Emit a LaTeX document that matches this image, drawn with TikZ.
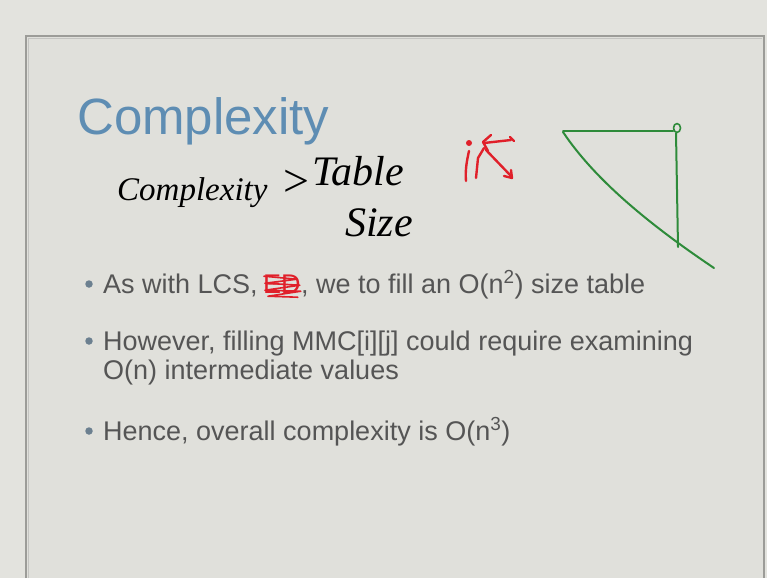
\documentclass[tikz,border=0pt]{standalone}
\usepackage{fontspec}
\setmainfont{Liberation Sans}
\newfontfamily\handfont{Liberation Serif}
\begin{document}
\begin{tikzpicture}[x=1pt,y=-1pt,
  body/.style={anchor=base west,inner sep=0pt,text=bodygray,font=\fontsize{27}{32}\selectfont},
  dot/.style={circle,fill=dotgray,inner sep=0pt,minimum size=7.5pt},
  hand/.style={anchor=base west,inner sep=0pt,text=black,font=\handfont\itshape\fontsize{34}{38}\selectfont},
  greenpen/.style={draw=penGreen,line width=2pt,line cap=round,line join=round},
  redpen/.style={draw=penRed,line width=2.4pt,line cap=round,line join=round}]
\definecolor{outer}{HTML}{E3E3DE}
\definecolor{inner}{HTML}{E0E0DB}
\definecolor{bordergray}{HTML}{9C9C98}
\definecolor{titleblue}{HTML}{5E8DB3}
\definecolor{bodygray}{HTML}{555555}
\definecolor{dotgray}{HTML}{6C8090}
\definecolor{penGreen}{HTML}{2E8B3A}
\definecolor{penRed}{HTML}{E0202A}
\useasboundingbox (0,0) rectangle (767,578);
\fill[outer] (0,0) rectangle (767,578);
\fill[inner] (26,36) rectangle (764,578);
\draw[bordergray,line width=1.6pt] (26,578) -- (26,36) -- (764,36) -- (764,578);
\draw[bordergray!60,line width=1pt] (28.5,578) -- (28.5,38.5) -- (762,38.5);
% title
\node[anchor=base west,inner sep=0pt,text=titleblue,font=\fontsize{51}{58}\selectfont] (title) at (77,134) {Complexity};
% handwriting
\node[hand,font=\handfont\itshape\fontsize{33}{38}\selectfont] (hw1) at (117,200) {Complexity};
\node[hand,font=\handfont\fontsize{46}{50}\selectfont] (hw2) at (283,196) {>};
\node[hand,font=\handfont\itshape\fontsize{42}{46}\selectfont] (hw3) at (312,185) {Table};
\node[hand,font=\handfont\itshape\fontsize{42}{46}\selectfont] (hw4) at (345,236) {Size};
% red mark
\fill[penRed] (469,143) circle (3pt);
\draw[redpen] (469,151) .. controls (467,160) and (465,170) .. (466,181);
\draw[redpen] (476,178) -- (478,158) -- (484,148);
\draw[redpen] (491,135) -- (483,142) -- (488,151);
\draw[redpen] (484,143) -- (511,140);
\draw[redpen] (510,137) -- (514,141);
\draw[redpen] (486,150) -- (511,176);
\draw[redpen] (504,176) -- (512,178) -- (511,170);
% green figure
\draw[greenpen] (563,131) -- (673,131);
\draw[greenpen,line width=1.6pt] (677,128) ellipse (3.5pt and 4.5pt);
\draw[greenpen] (676,133) -- (678,247);
\draw[greenpen] (563,132) .. controls (595,180) and (650,225) .. (714,268);
% bullets
\node[dot] (d1) at (89,284) {};
\node[body] (b1a) at (103,293) {As with LCS,};
\node[body,text=penRed,anchor=base west] (ed) at ([xshift=5pt]b1a.base east) {ED};
\node[body,anchor=base west] (b1b) at (ed.base east) {, we to fill an O(n\textsuperscript{2}) size table};
\draw[redpen,line width=1.6pt] ([xshift=1pt,yshift=-2pt]ed.north west) -- ([xshift=-4pt,yshift=-5pt]ed.north east) -- ([xshift=2pt,yshift=-9pt]ed.north west) -- ([xshift=-1pt,yshift=-11pt]ed.north east) -- ([xshift=2pt,yshift=-16pt]ed.north west) -- ([xshift=0pt,yshift=-17pt]ed.north east) -- ([xshift=5pt,yshift=-22pt]ed.north west) -- ([xshift=-3pt,yshift=-23pt]ed.north east);
\node[dot] (d2) at (89,341) {};
\node[body] (b2a) at (103,350) {However, filling MMC[i][j] could require examining};
\node[body] (b2b) at (103,379) {O(n) intermediate values};
\node[dot] (d3) at (89,431) {};
\node[body] (b3) at (103,440) {Hence, overall complexity is O(n\textsuperscript{3})};
\end{tikzpicture}
\end{document}
